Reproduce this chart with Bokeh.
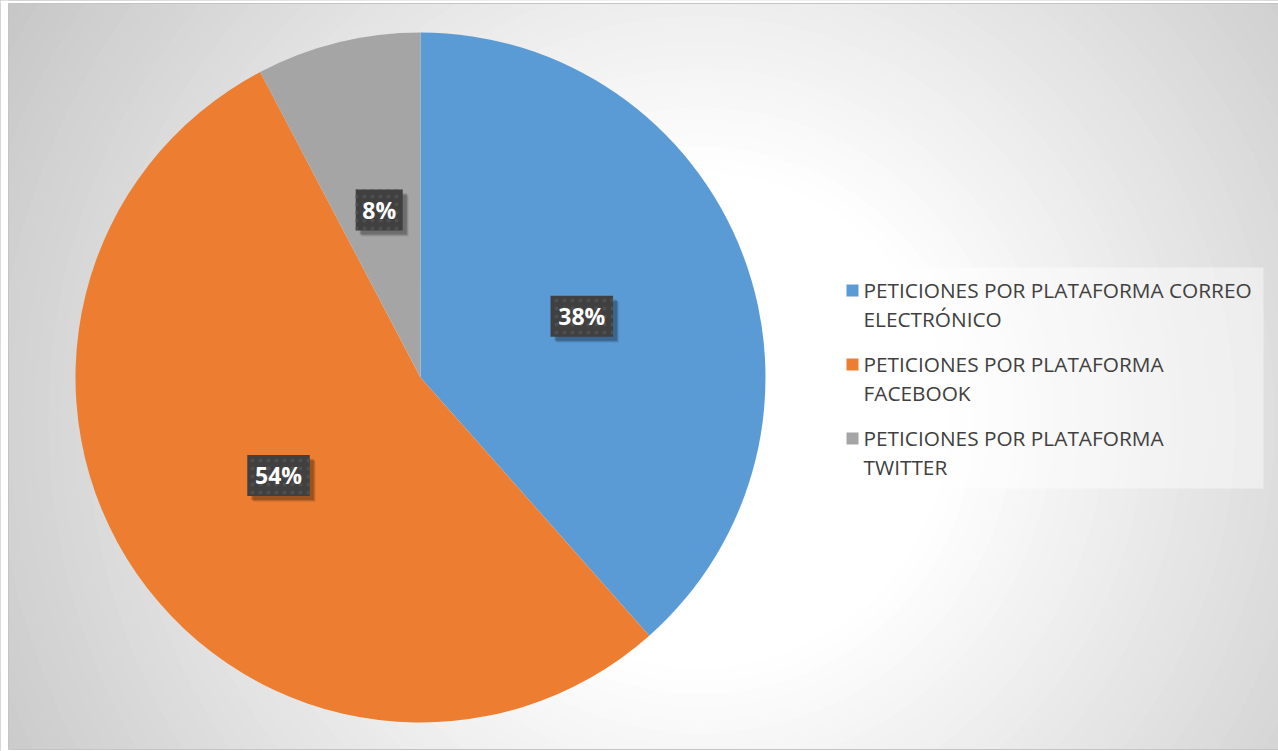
import numpy as np
from bokeh.plotting import figure
from bokeh.models import Range1d
from bokeh.core.properties import value
from bokeh.embed import file_html
from bokeh.resources import INLINE

# ---- data ----
categories = ["PETICIONES POR PLATAFORMA CORREO ELECTRÓNICO",
              "PETICIONES POR PLATAFORMA FACEBOOK",
              "PETICIONES POR PLATAFORMA TWITTER"]
legend_lines = [["PETICIONES POR PLATAFORMA CORREO", "ELECTRÓNICO"],
                ["PETICIONES POR PLATAFORMA", "FACEBOOK"],
                ["PETICIONES POR PLATAFORMA", "TWITTER"]]
counts = [5, 7, 1]
colors = ["#5B9BD5", "#ED7D31", "#A5A5A5"]

W, H = 1278, 751
def Y(ypix):
    return H - ypix

p = figure(width=W, height=H, x_range=Range1d(0, W), y_range=Range1d(0, H),
           output_backend="svg", toolbar_location=None, min_border=0)
p.axis.visible = False
p.grid.visible = False
p.outline_line_color = None
p.background_fill_color = "white"
p.border_fill_color = "white"

# ---- background radial gradient (chart area) ----
gcx, gcy = 700, 420
n = 70
dmax = 900
ds = np.linspace(dmax, 0, n)
shade = []
for d in ds:
    g = 255 - 0.1 * max(0.0, d - 250)
    g = int(round(max(190, min(255, g))))
    shade.append("#%02x%02x%02x" % (g, g, g))
p.circle(x=[gcx] * n, y=[Y(gcy)] * n, radius=list(ds), fill_color=shade,
         line_color=None, radius_units="data")

# margins (white) and border
p.quad(left=[0, 0, 0, 0], right=[8, W, W, W], bottom=[0, Y(3), 0, 0],
       top=[H, H, Y(749), 0], fill_color="white", line_color=None)
p.quad(left=[8], right=[W + 2], bottom=[Y(749)], top=[Y(3)], fill_color=None,
       line_color="#c4c4c4", line_width=1)

# ---- pie ----
cx, cy, r = 420, 377, 345
total = float(sum(counts))
fr = np.array(counts) / total
cum = np.concatenate([[0], np.cumsum(fr)])
start = np.pi / 2 - 2 * np.pi * cum[:-1]
end = np.pi / 2 - 2 * np.pi * cum[1:]
p.wedge(x=[cx] * 3, y=[Y(cy)] * 3, radius=r, start_angle=list(start),
        end_angle=list(end), direction="clock", fill_color=colors,
        line_color=None)

# ---- data labels ----
mid = (start + end) / 2
lx = cx + 0.5 * r * np.cos(mid)
ly = Y(cy) + 0.5 * r * np.sin(mid)
labels = ["%d%%" % round(f * 100) for f in fr]
bw = [16 + 15.5 * len(t) for t in labels]
bh = [41] * 3
for off, a in [(6, 0.08), (5, 0.12), (4, 0.18)]:
    p.rect(x=list(lx + off), y=list(ly - off), width=bw, height=bh,
           fill_color="black", fill_alpha=a, line_color=None)
p.rect(x=list(lx), y=list(ly), width=bw, height=bh, fill_color="#404040",
       line_color=None, hatch_pattern="dot", hatch_color="#4e4e4e",
       hatch_scale=8, hatch_weight=1.5)
p.text(x=list(lx), y=list(ly), text=labels, text_color="white",
       text_font=value("Open Sans"), text_font_style="bold",
       text_font_size="23px", text_align="center", text_baseline="middle")

# ---- legend ----
p.quad(left=[831], right=[1263], bottom=[Y(488)], top=[Y(267)],
       fill_color="white", fill_alpha=0.45, line_color=None)
entry_y = [289.5, 363.5, 437.5]
line_gap = 28.5
tx, ty, tt = [], [], []
for i, lines in enumerate(legend_lines):
    for j, s in enumerate(lines):
        tx.append(863)
        ty.append(Y(entry_y[i] + j * line_gap))
        tt.append(s)
p.rect(x=[852] * 3, y=[Y(e + 0.5) for e in entry_y], width=12, height=12,
       fill_color=colors, line_color=None)
p.text(x=tx, y=ty, text=tt, text_color="#404040",
       text_font=value("Open Sans"), text_font_size="20.8px",
       text_align="left", text_baseline="middle")

open("out.html", "w").write(file_html(p, INLINE))
